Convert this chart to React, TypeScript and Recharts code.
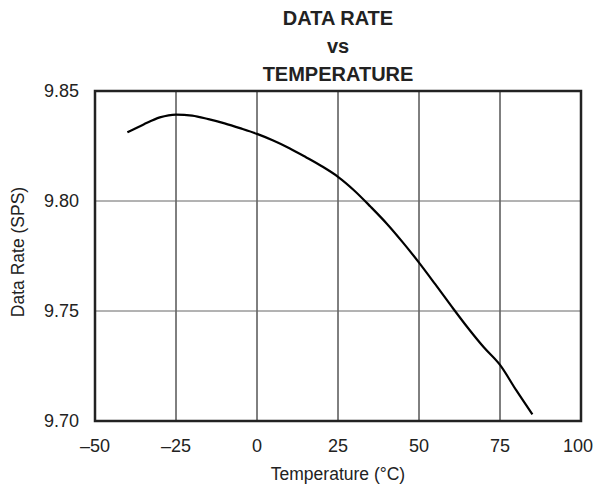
import { LineChart, Line, XAxis, YAxis, CartesianGrid, ReferenceArea } from 'recharts';

// temperature in °C, data rate in SPS
const temps = [-40, -35, -30, -25, -20, -15, -10, -5, 0, 5, 10, 15, 20, 25, 30, 35, 40, 45, 50, 55, 60, 65, 70, 75, 80, 85];
const rates = [
  9.8312, 9.8348, 9.8380, 9.8393, 9.8388, 9.8372, 9.8353, 9.8330, 9.8305, 9.8275,
  9.8240, 9.8200, 9.8158, 9.8110, 9.8048, 9.7975, 9.7898, 9.7812, 9.7720, 9.7622,
  9.7522, 9.7425, 9.7335, 9.7255, 9.7140, 9.7030,
];

const xTicks = [-50, -25, 0, 25, 50, 75, 100];
const yTicks = [9.7, 9.75, 9.8, 9.85];
const titleLines = ['DATA RATE', 'vs', 'TEMPERATURE'];

const data = temps.map((t, i) => ({ t, rate: rates[i] }));

const FONT = '"Liberation Sans", Arial, sans-serif';
const tickStyle = { fontSize: 18, fill: '#222', fontFamily: FONT };

// x tick; the last label is pulled in a little so it stays on the page
const XTick = (props: any) => {
  const { x, y, payload, index, visibleTicksCount } = props;
  const last = index === visibleTicksCount - 1;
  const label = String(payload.value).replace('-', '\u2013');
  return (
    <text x={last ? x + 12 : x} y={y} dy="0.71em" textAnchor={last ? 'end' : 'middle'} {...tickStyle}>
      {label}
    </text>
  );
};

const App = () => {
  return (
    <div style={{ position: 'absolute', left: 0, top: 0, width: 594, height: 484, overflow: 'hidden', background: '#fff', fontFamily: FONT }}>
      <div style={{ position: 'absolute', left: 238, width: 200, top: 4, textAlign: 'center', fontWeight: 'bold', fontSize: 20, lineHeight: '28px', color: '#222' }}>
        {titleLines.map((s) => (
          <div key={s}>{s}</div>
        ))}
      </div>
      <div
        style={{
          position: 'absolute', left: 18, top: 252, width: 200, marginLeft: -100, textAlign: 'center',
          fontSize: 17.5, color: '#222', transform: 'translateY(-50%) rotate(-90deg)', lineHeight: '20px',
        }}
      >
        Data Rate (SPS)
      </div>
      <LineChart width={594} height={484} data={data} margin={{ top: 91, right: 13, bottom: 0, left: 0 }}>
        <CartesianGrid horizontal={false} stroke="#000" strokeWidth={1} />
        <CartesianGrid vertical={false} stroke="#666" strokeWidth={1} />
        <XAxis
          dataKey="t"
          type="number"
          domain={[-50, 100]}
          ticks={xTicks}
          allowDataOverflow
          height={63}
          tickSize={0}
          tickMargin={18}
          axisLine={false}
          tick={<XTick />}
          label={{ value: 'Temperature (\u00b0C)', position: 'insideBottom', offset: 4, style: { fontSize: 17.5, fill: '#222', fontFamily: FONT } }}
        />
        <YAxis
          type="number"
          domain={[9.7, 9.85]}
          ticks={yTicks}
          allowDataOverflow
          width={95}
          tickSize={0}
          tickMargin={16}
          axisLine={false}
          tick={tickStyle}
          tickFormatter={(v: number) => v.toFixed(2)}
        />
        <ReferenceArea x1={-50} x2={100} y1={9.7} y2={9.85} fill="none" stroke="#222" strokeWidth={2.5} fillOpacity={0} ifOverflow="visible" />
        <Line type="monotone" dataKey="rate" stroke="#000" strokeWidth={2.2} dot={false} isAnimationActive={false} />
      </LineChart>
    </div>
  );
};

export default App;
